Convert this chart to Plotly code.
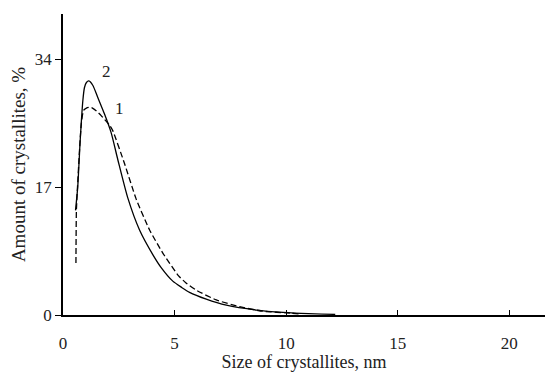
import plotly.graph_objects as go

# Curve 2 (solid)
x2 = [0.56, 0.66, 0.77, 0.89, 0.96, 1.05, 1.16, 1.34, 1.56, 1.86, 2.16, 2.46, 2.9, 3.43, 4.03,
      4.4, 4.92, 5.3, 5.67, 6.42, 7.32, 8.66, 9.86, 11.0, 12.2]
y2 = [13.9, 17.0, 23.2, 28.5, 30.2, 30.9, 31.1, 30.5, 28.9, 26.7, 24.2, 20.6, 15.6, 11.3, 8.0,
      6.3, 4.5, 3.7, 3.0, 2.1, 1.3, 0.66, 0.35, 0.18, 0.08]

# Curve 1 (dashed)
x1 = [0.58, 0.6, 0.65, 0.74, 0.82, 0.92, 1.05, 1.2, 1.32, 1.5, 1.71, 2.09, 2.23, 2.76, 3.28,
      3.88, 4.48, 5.18, 5.5, 5.97, 6.87, 7.91, 8.96, 10.2, 10.6]
y1 = [6.9, 13.9, 17.0, 21.9, 25.4, 27.2, 27.5, 27.6, 27.5, 27.1, 26.5, 25.2, 24.5, 20.1, 15.4,
      11.3, 8.2, 5.2, 4.3, 3.3, 2.0, 1.1, 0.5, 0.25, 0.15]

labels = ["2", "1"]
label_x = [1.94, 2.53]
label_y = [32.4, 27.4]

x_ticks = [0, 5, 10, 15, 20]
y_ticks = [0, 17, 34]

FONT = "Liberation Serif, Times New Roman, serif"

fig = go.Figure()
fig.add_trace(go.Scatter(x=x1, y=y1, mode="lines",
                         line=dict(color="black", width=1.3, dash="6px,3px", shape="spline", smoothing=0.5),
                         showlegend=False))
fig.add_trace(go.Scatter(x=x2, y=y2, mode="lines",
                         line=dict(color="black", width=1.3, shape="spline", smoothing=0.6),
                         showlegend=False))

for t, lx, ly in zip(labels, label_x, label_y):
    fig.add_annotation(x=lx, y=ly, text=t, showarrow=False,
                       font=dict(family=FONT, size=17, color="#222"))

fig.update_layout(
    width=545, height=372,
    margin=dict(l=63, r=0, t=14, b=57),
    plot_bgcolor="white", paper_bgcolor="white",
    font=dict(family=FONT, size=17, color="#222"),
    xaxis=dict(range=[0, 21.6], tickvals=x_ticks, ticks="inside", ticklen=5,
               tickcolor="black", showline=True, linecolor="black", linewidth=1.5,
               showgrid=False, zeroline=False, ticklabelstandoff=12,
               title=dict(text="Size of crystallites, nm", standoff=0,
                          font=dict(family=FONT, size=18)),
               tickfont=dict(family=FONT, size=17)),
    yaxis=dict(range=[0, 40], tickvals=y_ticks, ticks="outside", ticklen=6,
               tickcolor="black", showline=True, linecolor="black", linewidth=1.5,
               showgrid=False, zeroline=False,
               title=dict(text="Amount of crystallites, %", standoff=4,
                          font=dict(family=FONT, size=19)),
               tickfont=dict(family=FONT, size=17)),
)

fig.write_html("out.html")
